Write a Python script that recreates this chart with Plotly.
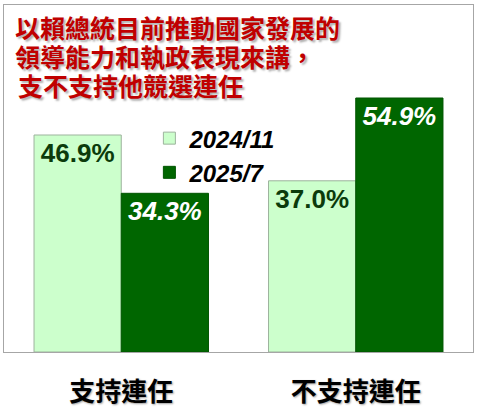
import plotly.graph_objects as go

# survey data
categories = ["支持連任", "不支持連任"]
series_names = ["2024/11", "2025/7"]
values_2024_11 = [46.9, 37.0]
values_2025_7 = [34.3, 54.9]
title_lines = ["以賴總統目前推動國家發展的", "領導能力和執政表現來講，", "支不支持他競選連任"]

NUM_FONT = "Liberation Sans, Arial, sans-serif"
CJK = "Noto Sans CJK TC, Noto Sans CJK SC, sans-serif"

fig = go.Figure()
fig.add_trace(go.Bar(
    x=categories, y=values_2024_11, name=series_names[0],
    marker=dict(color="#CCFFCC", line=dict(color="#9DB39D", width=1)),
    text=[f"{v:.1f}%" for v in values_2024_11],
    textposition="inside", insidetextanchor="end", textangle=0,
    textfont=dict(family=NUM_FONT, size=26, color="#0B3B0B", weight="bold"),
))
fig.add_trace(go.Bar(
    x=categories, y=values_2025_7, name=series_names[1],
    marker=dict(color="#006600", line=dict(color="#005500", width=1)),
    text=[f"{v:.1f}%" for v in values_2025_7],
    textposition="inside", insidetextanchor="end", textangle=0,
    textfont=dict(family=NUM_FONT, size=26, color="white", weight="bold", style="italic"),
))

# title, one annotation per line
title_pos = [(0.022, 0.937), (0.022, 0.853), (0.028, 0.769)]
for line, (px, py) in zip(title_lines, title_pos):
    fig.add_annotation(
        text=line, xref="paper", yref="paper", x=px, y=py,
        xanchor="left", yanchor="middle", showarrow=False, borderpad=0,
        font=dict(family=CJK, size=25, color="#C00000", weight="bold",
                  shadow="2px 2px 2px #B0B0B0"),
    )

fig.update_layout(
    width=478, height=407,
    margin=dict(l=4, r=5, t=5, b=55, autoexpand=False),
    paper_bgcolor="white", plot_bgcolor="white",
    barmode="group", bargap=0.256, bargroupgap=0,
    showlegend=True,
    legend=dict(
        x=0.31, y=0.68, xanchor="left", yanchor="top",
        bgcolor="rgba(0,0,0,0)",
        font=dict(family=NUM_FONT, size=24, color="black",
                  weight="bold", style="italic"),
        tracegroupgap=2,
    ),
)
fig.update_xaxes(
    automargin=False,
    showline=True, mirror=True, linecolor="#A6A6A6", linewidth=1,
    ticks="", ticklabelstandoff=17,
    tickfont=dict(family=CJK, size=26, color="black", weight="bold",
                  shadow="1px 1px 2px #A0A0A0"),
)
fig.update_yaxes(
    automargin=False,
    range=[0, 75], showline=True, mirror=True, linecolor="#A6A6A6", linewidth=1,
    showgrid=False, showticklabels=False, zeroline=False, ticks="",
)

# page body has a default 8px margin, drop it so the chart sits at the corner
fig.write_html("out.html", config={"displayModeBar": False},
               post_script="document.body.style.margin='0';")
